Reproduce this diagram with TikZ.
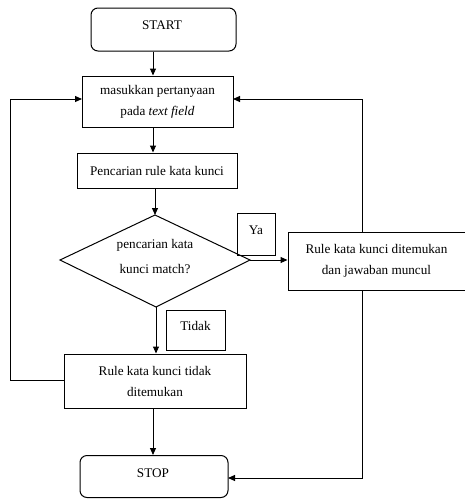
\documentclass[tikz,border=0pt]{standalone}
\usepackage{fontspec}
\setmainfont{Liberation Serif}
\usetikzlibrary{shapes.geometric,arrows.meta}
\begin{document}
\begin{tikzpicture}[x=1pt,y=-1pt,
  line width=1pt,
  box/.style={draw, rectangle, inner sep=0pt, font=\fontsize{13.2}{21}\selectfont, align=center},
  rbox/.style={draw, rectangle, rounded corners=7pt, inner sep=0pt},
  arr/.style={-{Triangle[length=7pt,width=6pt]}},
  lbl/.style={font=\fontsize{13.2}{15}\selectfont}]
\useasboundingbox (0,0) rectangle (465,499);
% START
\node[rbox, minimum width=145pt, minimum height=43pt] (start) at (163.5,29.5) {};
\node[lbl] (starttxt) at (162,25) {START};
% masukkan
\node[box, minimum width=151pt, minimum height=51pt] (input) at (157.5,101.5) {masukkan pertanyaan\\pada \textit{text field}};
% Pencarian
\node[box, minimum width=160pt, minimum height=35pt] (search) at (157,170.5) {Pencarian rule kata kunci};
% Diamond corners
\coordinate (dt) at (155,215);
\coordinate (dl) at (60,260);
\coordinate (dr) at (250,260);
\coordinate (db) at (156,307);
\draw (dt) -- (dr) -- (db) -- (dl) -- cycle;
\node[lbl, align=center, font=\fontsize{13.2}{25}\selectfont] (dtxt) at (155,257) {pencarian kata\\kunci match?};
% Ya
\node[box, minimum width=38pt, minimum height=42pt] (ya) at (256,234) {};
\node[lbl] (yatxt) at (256,230) {Ya};
% Rule ditemukan
\node[box, minimum width=177pt, minimum height=58pt] (found) at (376.5,261) {Rule kata kunci ditemukan\\dan jawaban muncul};
% Tidak
\node[box, minimum width=59pt, minimum height=40pt] (tidak) at (195.5,330) {};
\node[lbl] (tidaktxt) at (195.5,326) {Tidak};
% Rule tidak ditemukan
\node[box, minimum width=182pt, minimum height=54pt] (notfound) at (155,381) {Rule kata kunci tidak\\ditemukan};
% STOP
\node[rbox, minimum width=148pt, minimum height=42pt] (stop) at (154,476.5) {};
\node[lbl] (stoptxt) at (153,473) {STOP};
% coordinates
\coordinate (inl) at (82,99);
\coordinate (inr) at (233,99);
\coordinate (lc1) at (10,380);
\coordinate (lc2) at (10,99);
\coordinate (rc) at (362,99);
\coordinate (fb) at (362,478);
\coordinate (stopr) at (228,478);
% arrows
\draw[arr] (start.south -| 153,0) -- (input.north -| 153,0);
\draw[arr] (input.south -| 153,0) -- (search.north -| 153,0);
\draw[arr] (search.south -| 155,0) -- (dt);
\draw[arr] (dr) -- (found.west |- dr);
\draw[arr] (db) -- (notfound.north -| db);
\draw[arr] (notfound.south -| 153,0) -- (stop.north -| 153,0);
\draw[arr] (notfound.west |- lc1) -- (lc1) -- (lc2) -- (inl);
\draw[arr] (found.north -| rc) -- (rc) -- (inr);
\draw[arr] (found.south -| fb) -- (fb) -- (stopr);
\end{tikzpicture}
\end{document}
